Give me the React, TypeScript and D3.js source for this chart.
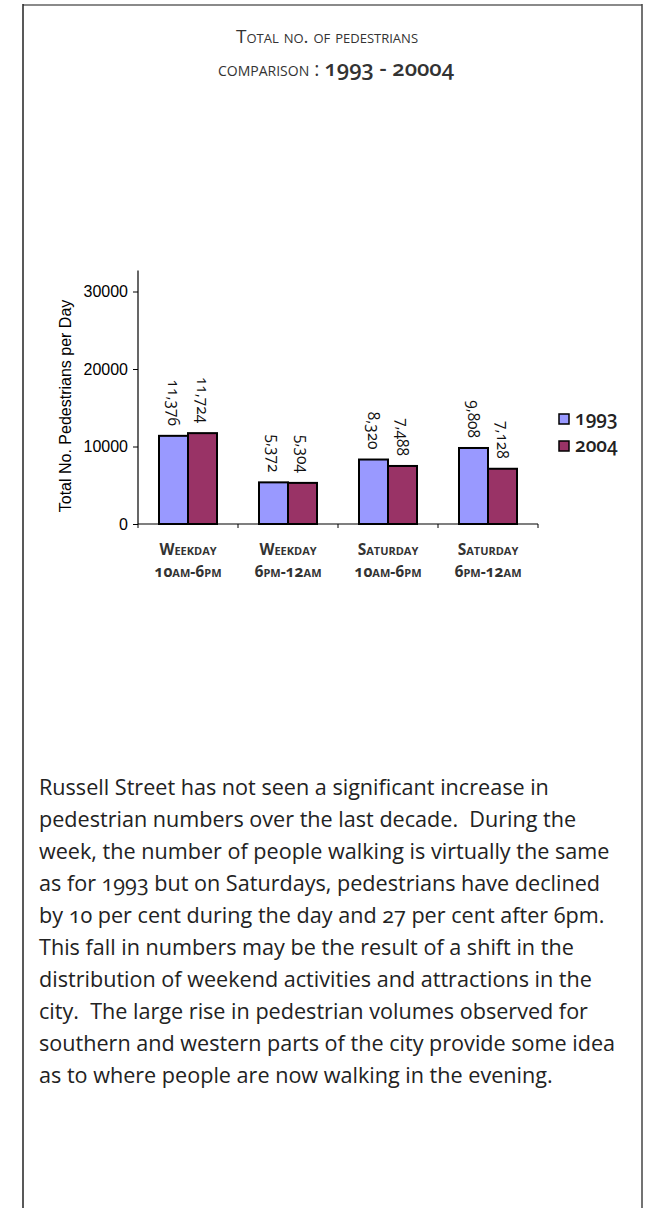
import React, { useEffect, useRef } from 'react';
import * as d3 from 'd3';

const periods = ['Weekday|10am-6pm', 'Weekday|6pm-12am', 'Saturday|10am-6pm', 'Saturday|6pm-12am'];
const years = ['1993', '2004'];
const values1993 = [11376, 5372, 8320, 9808];
const values2004 = [11724, 5304, 7488, 7128];
const yTicks = [0, 10000, 20000, 30000];
const colors = ['#9999ff', '#993366'];

const titleLines = ['Total no. of pedestrians', 'comparison : '];
const titleYears = '1993 - 20004';

const bodyLines = [
    'Russell Street has not seen a significant increase in',
    'pedestrian numbers over the last decade.  During the',
    'week, the number of people walking is virtually the same',
    'as for 1993 but on Saturdays, pedestrians have declined',
    'by 10 per cent during the day and 27 per cent after 6pm.',
    'This fall in numbers may be the result of a shift in the',
    'distribution of weekend activities and attractions in the',
    'city.  The large rise in pedestrian volumes observed for',
    'southern and western parts of the city provide some idea',
    'as to where people are now walking in the evening.',
];

const PedestrianChart: React.FC = () => {
    const ref = useRef<SVGSVGElement>(null);

    useEffect(() => {
        const svg = d3.select(ref.current);
        svg.selectAll('*').remove();

        const textFont = '"Open Sans", Lato, sans-serif';
        const oldNums = 'oldstyle-nums';

        // frame
        svg.append('line').attr('x1', 23).attr('x2', 642).attr('y1', 5).attr('y2', 5)
            .attr('stroke', '#8a8a8a').attr('stroke-width', 2);
        svg.append('line').attr('x1', 23).attr('x2', 23).attr('y1', 4).attr('y2', 1208)
            .attr('stroke', '#222').attr('stroke-width', 1.5);
        svg.append('line').attr('x1', 642).attr('x2', 642).attr('y1', 4).attr('y2', 1208)
            .attr('stroke', '#444').attr('stroke-width', 1.5);

        // title
        svg.append('text')
            .attr('x', 327).attr('y', 43)
            .attr('text-anchor', 'middle')
            .attr('font-family', textFont)
            .attr('font-size', 19)
            .attr('fill', '#333')
            .style('font-variant', 'small-caps')
            .text(titleLines[0]);
        const t2 = svg.append('text')
            .attr('x', 336).attr('y', 76)
            .attr('text-anchor', 'middle')
            .attr('font-family', textFont)
            .attr('fill', '#333')
            .style('font-variant-numeric', oldNums);
        t2.append('tspan').attr('font-size', 19.5).style('font-variant', 'small-caps').text(titleLines[1]);
        t2.append('tspan').attr('font-size', 22).attr('font-weight', 600).text(titleYears);

        // chart
        const x0 = d3.scaleBand().domain(periods).range([138, 538]);
        const x1 = d3.scaleBand().domain(years).range([0, 58]);
        const y = d3.scaleLinear().domain([0, 30000]).range([524, 291.5]);
        const inner = (x0.bandwidth() - 58) / 2;

        const yAxis = svg.append('g')
            .attr('transform', 'translate(138,0)')
            .call(d3.axisLeft(y).tickValues(yTicks).tickSize(5).tickSizeOuter(0).tickFormat(d3.format('d')));
        yAxis.select('.domain').remove();
        yAxis.append('line').attr('x1', 0).attr('x2', 0).attr('y1', y(0)).attr('y2', y(30000) - 21)
            .attr('stroke', '#000').attr('stroke-width', 1.2);
        yAxis.selectAll('text')
            .attr('font-family', 'Arial, "Liberation Sans", sans-serif')
            .attr('font-size', 16)
            .attr('fill', '#000')
            .attr('dx', -2);

        const xAxis = svg.append('g')
            .attr('transform', `translate(0,${y(0)})`);
        xAxis.append('line').attr('x1', 138).attr('x2', 538).attr('stroke', '#000').attr('stroke-width', 1.2);
        xAxis.selectAll('line.tick')
            .data([...periods.map(p => x0(p) as number), 538])
            .enter().append('line')
            .attr('class', 'tick')
            .attr('x1', d => d).attr('x2', d => d)
            .attr('y1', 0).attr('y2', 4)
            .attr('stroke', '#000');

        svg.append('text')
            .attr('transform', 'translate(71,406) rotate(-90)')
            .attr('text-anchor', 'middle')
            .attr('font-family', 'Arial, "Liberation Sans", sans-serif')
            .attr('font-size', 16)
            .attr('fill', '#000')
            .text('Total No. Pedestrians per Day');

        const rows = periods.map((p, i) => ({ p, vals: [values1993[i], values2004[i]] }));
        const groups = svg.append('g').selectAll('g')
            .data(rows)
            .enter().append('g')
            .attr('transform', d => `translate(${(x0(d.p) as number) + inner},0)`);

        const bars = groups.selectAll('g')
            .data(d => d.vals.map((v, j) => ({ key: years[j], v, j })))
            .enter().append('g');

        bars.append('rect')
            .attr('x', d => x1(d.key) as number)
            .attr('y', d => y(d.v))
            .attr('width', x1.bandwidth())
            .attr('height', d => y(0) - y(d.v))
            .attr('fill', d => colors[d.j])
            .attr('stroke', '#000')
            .attr('stroke-width', 2);

        bars.append('text')
            .attr('transform', d => `translate(${(x1(d.key) as number) + x1.bandwidth() / 2},${y(d.v) - 10}) rotate(90)`)
            .attr('text-anchor', 'end')
            .attr('dy', '0.35em')
            .attr('font-family', textFont)
            .attr('font-size', 15.5)
            .attr('fill', '#111')
            .style('font-variant-numeric', oldNums)
            .text(d => d3.format(',')(d.v));

        // category labels
        const cat = svg.append('g').selectAll('text')
            .data(periods)
            .enter().append('text')
            .attr('text-anchor', 'middle')
            .attr('font-family', textFont)
            .attr('font-size', 15.5)
            .attr('font-weight', 'bold')
            .attr('fill', '#333')
            .style('font-variant', 'small-caps')
            .style('font-variant-numeric', oldNums);
        cat.append('tspan')
            .attr('x', d => (x0(d) as number) + x0.bandwidth() / 2)
            .attr('y', 555)
            .text(d => d.split('|')[0]);
        cat.append('tspan')
            .attr('x', d => (x0(d) as number) + x0.bandwidth() / 2)
            .attr('y', 577)
            .text(d => d.split('|')[1]);

        // legend
        const legend = svg.append('g').selectAll('g')
            .data(years)
            .enter().append('g')
            .attr('transform', (d, i) => `translate(559,${414 + i * 27})`);
        legend.append('rect')
            .attr('width', 10).attr('height', 10)
            .attr('fill', (d, i) => colors[i])
            .attr('stroke', '#000').attr('stroke-width', 1.5);
        legend.append('text')
            .attr('x', 16).attr('y', 11)
            .attr('font-family', textFont)
            .attr('font-size', 19)
            .attr('font-weight', 600)
            .attr('fill', '#222')
            .style('font-variant-numeric', oldNums)
            .text(d => d);

        // body text
        svg.append('g').selectAll('text')
            .data(bodyLines)
            .enter().append('text')
            .attr('x', 39)
            .attr('y', (d, i) => 795 + i * 32)
            .attr('font-family', textFont)
            .attr('font-size', 21.6)
            .attr('fill', '#222')
            .style('white-space', 'pre')
            .style('font-variant-numeric', oldNums)
            .text(d => d);
    }, []);

    return <svg ref={ref} width="650" height="1208" style={{ display: 'block' }}></svg>;
};

export default function App() {
    return (
        <div style={{ position: 'absolute', left: 0, top: 0, background: '#fff' }}>
            <PedestrianChart />
        </div>
    );
}
